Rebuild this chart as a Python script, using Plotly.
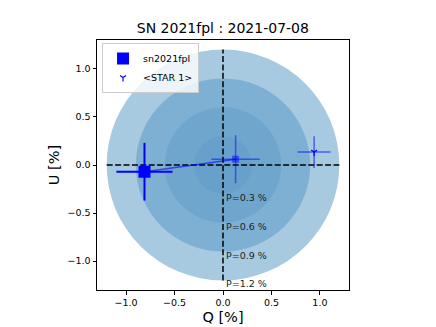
import plotly.graph_objects as go

# polarisation degree circles (P in %)
p_levels = [1.2, 0.9, 0.6, 0.3]
p_colors = ["#a7cae1", "#7eb0d3", "#6fa6cd", "#67a1cb"]

# sn2021fpl (observed)
sn_q, sn_u = [-0.81], [-0.07]
sn_qerr, sn_uerr = [0.29], [0.30]

# ISP-ish point (not in legend)
isp_q, isp_u = [0.13], [0.06]
isp_qerr, isp_uerr = [0.25], [0.25]

# <STAR 1>
star_q, star_u = [0.94], [0.135]
star_qerr, star_uerr = [0.17], [0.165]

axis_lim = 1.3
guide_lim = 1.2
ticks = [-1.0, -0.5, 0.0, 0.5, 1.0]

FONT = "DejaVu Sans, Arial, sans-serif"

fig = go.Figure()

shapes = []
for r, c in zip(p_levels, p_colors):
    shapes.append(dict(type="circle", xref="x", yref="y", x0=-r, y0=-r, x1=r, y1=r,
                       fillcolor=c, line=dict(width=0), layer="below"))

# dashed guides through origin
fig.add_trace(go.Scatter(x=[-guide_lim, guide_lim], y=[0, 0], mode="lines",
                         line=dict(color="black", width=1.5, dash="6px,2.4px"),
                         showlegend=False, hoverinfo="skip"))
fig.add_trace(go.Scatter(x=[0, 0], y=[-guide_lim, guide_lim], mode="lines",
                         line=dict(color="black", width=1.5, dash="6px,2.4px"),
                         showlegend=False, hoverinfo="skip"))

# connecting line
fig.add_trace(go.Scatter(x=sn_q + isp_q, y=sn_u + isp_u, mode="lines",
                         line=dict(color="rgba(0,0,255,0.6)", width=1.5),
                         showlegend=False, hoverinfo="skip"))

fig.add_trace(go.Scatter(
    x=isp_q, y=isp_u, mode="markers", showlegend=False,
    marker=dict(symbol="square", size=7, color="rgba(0,0,255,0.5)"),
    error_x=dict(type="data", array=isp_qerr, width=0, thickness=1.5, color="rgba(0,0,255,0.5)"),
    error_y=dict(type="data", array=isp_uerr, width=0, thickness=1.5, color="rgba(0,0,255,0.5)"),
))

fig.add_trace(go.Scatter(
    x=sn_q, y=sn_u, mode="markers", name="sn2021fpl",
    marker=dict(symbol="square", size=12, color="blue"),
    error_x=dict(type="data", array=sn_qerr, width=0, thickness=2, color="blue"),
    error_y=dict(type="data", array=sn_uerr, width=0, thickness=2, color="blue"),
))

fig.add_trace(go.Scatter(
    x=star_q, y=star_u, mode="markers", name="<STAR 1>",
    marker=dict(symbol="y-down", size=5, color="blue",
                line=dict(color="blue", width=1.2)),
    error_x=dict(type="data", array=star_qerr, width=0, thickness=1.5, color="rgba(0,0,255,0.55)"),
    error_y=dict(type="data", array=star_uerr, width=0, thickness=1.5, color="rgba(0,0,255,0.55)"),
))

annotations = []
for r in sorted(p_levels):
    annotations.append(dict(x=0, y=-r, xref="x", yref="y", text=f"P={r} %",
                            showarrow=False, xanchor="left", yanchor="middle",
                            xshift=1, yshift=-3.5,
                            font=dict(size=9.5, color="#222222", family=FONT)))

axis_style = dict(range=[-axis_lim, axis_lim], tickvals=ticks, tickformat=".1f",
                  showgrid=False, zeroline=False, showline=True, mirror=True,
                  linecolor="black", linewidth=1, ticks="outside", ticklen=3.5,
                  tickcolor="black", automargin=False,
                  tickfont=dict(size=9.5, color="black", family=FONT))

# page has an 8px body margin, so the figure is a bit smaller than the window
fig.update_layout(
    width=428, height=319,
    paper_bgcolor="white", plot_bgcolor="white",
    margin=dict(l=89, r=87, t=32, b=37),
    font=dict(family=FONT, color="black"),
    title=dict(text="SN 2021fpl : 2021-07-08", x=0.502, xanchor="center",
               y=0.937, yanchor="middle", automargin=False, font=dict(size=14)),
    xaxis=dict(title=dict(text="Q [%]", font=dict(size=14.5), standoff=4), **axis_style),
    yaxis=dict(title=dict(text="U [%]", font=dict(size=14.5), standoff=4), **axis_style),
    shapes=shapes, annotations=annotations,
    legend=dict(x=0.02, y=0.988, xanchor="left", yanchor="top",
                bgcolor="rgba(255,255,255,0.8)", bordercolor="#cccccc", borderwidth=1,
                font=dict(size=9.5), tracegroupgap=0, itemwidth=30),
)

fig.write_html("out.html")
